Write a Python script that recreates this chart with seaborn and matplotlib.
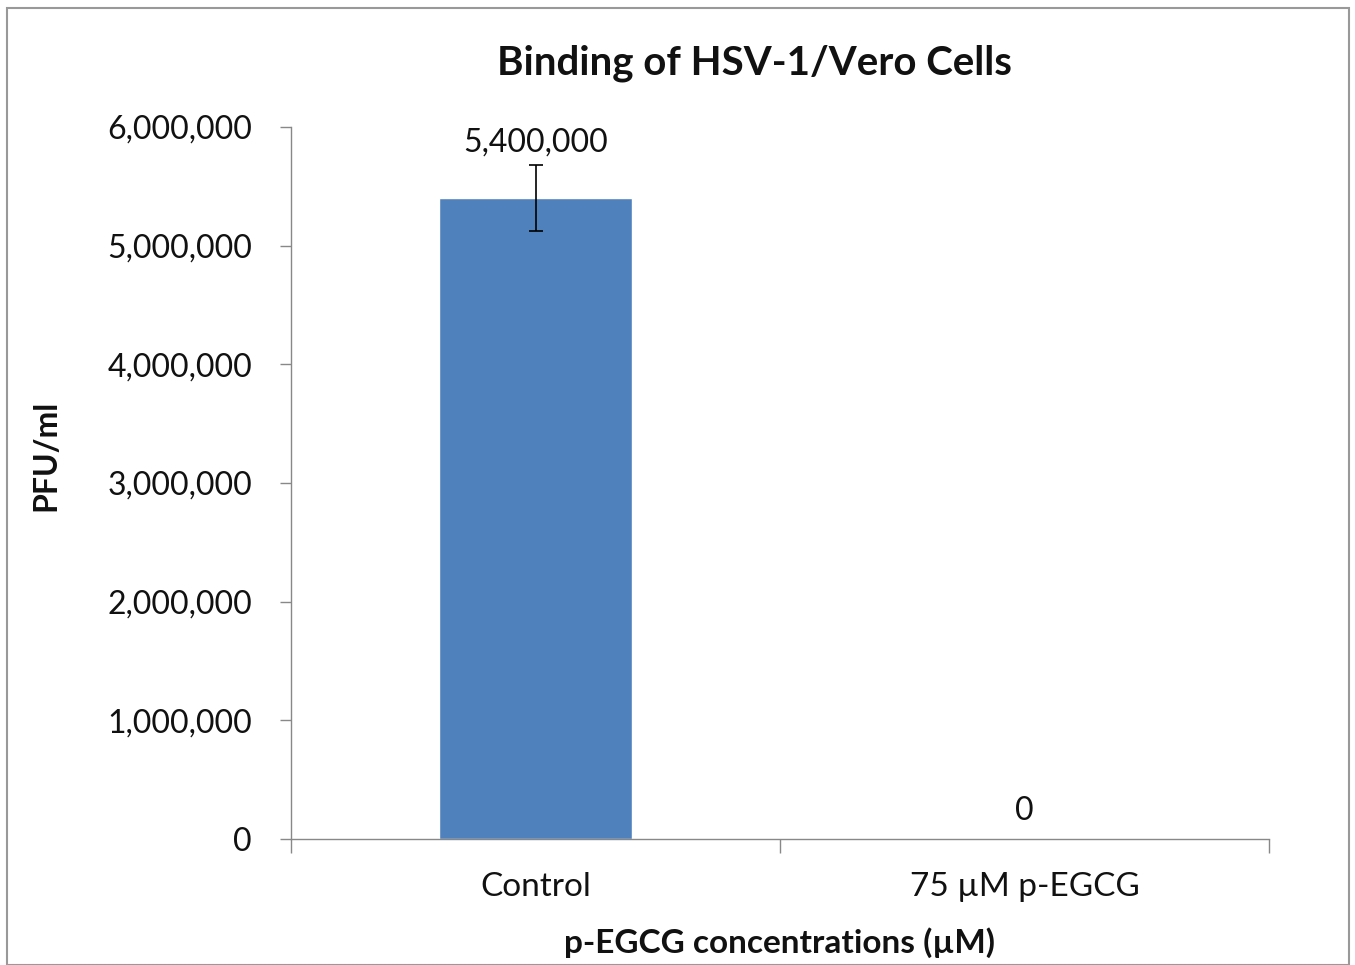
import matplotlib
matplotlib.use("Agg")
import matplotlib.pyplot as plt
import seaborn as sns
import pandas as pd
from matplotlib.patches import Rectangle
from matplotlib.ticker import FuncFormatter, FixedLocator

categories = ["Control", "75 µM p-EGCG"]
values = [5400000, 0]
errors = [280000, 0]
value_labels = ["5,400,000", "0"]
yticks = [0, 1000000, 2000000, 3000000, 4000000, 5000000, 6000000]

sns.set_theme(style="white")
plt.rcParams['font.family'] = ['Lato', 'DejaVu Sans']

df = pd.DataFrame({"cat": categories, "val": values})

fig = plt.figure(figsize=(13.55, 9.65), dpi=100)
ax = fig.add_axes([291/1355, 1-839/965, (1269-291)/1355, (839-127)/965])

sns.barplot(data=df, x="cat", y="val", color="#4F81BD", width=0.395,
            errorbar=None, saturation=1, ax=ax)
ax.errorbar(x=range(len(categories))[:1], y=values[:1], yerr=errors[:1],
            fmt="none", ecolor="black", elinewidth=1.2, capsize=5, capthick=1.2)

for i, (v, e, lab) in enumerate(zip(values, errors, value_labels)):
    ax.annotate(lab, (i, v + e), xytext=(0, 5 if e else 9), textcoords="offset points",
                ha="center", va="bottom", fontsize=23, color="#111111")

ax.set_xlim(-0.5, 1.5)
ax.set_ylim(0, 6000000)
ax.set_yticks(yticks)
ax.yaxis.set_major_formatter(FuncFormatter(lambda v, p: f"{int(v):,}"))
ax.xaxis.set_major_locator(FixedLocator([-0.5, 0.5, 1.5]))
ax.xaxis.set_minor_locator(FixedLocator([0, 1]))
ax.set_xticklabels([], minor=False)
ax.set_xticklabels(categories, minor=True)
ax.tick_params(axis="x", which="major", length=10, width=1, color="#888888", direction="out", bottom=True)
ax.tick_params(axis="x", which="minor", length=0, labelsize=24, pad=24, bottom=True, labelcolor="#111111")
ax.tick_params(axis="y", length=8, width=1, color="#888888", direction="out", labelsize=23,
               pad=20, left=True, labelcolor="#111111")

for s in ["top", "right"]:
    ax.spines[s].set_visible(False)
for s in ["left", "bottom"]:
    ax.spines[s].set_color("#888888")
    ax.spines[s].set_linewidth(1)

ax.set_xlabel("p-EGCG concentrations (µM)", fontsize=24, fontweight="bold", labelpad=18, color="#111111")
ax.set_ylabel("PFU/ml", fontsize=23, fontweight="bold", color="#111111")
ax.yaxis.set_label_coords(-0.236, 0.539)
ax.set_title("Binding of HSV-1/Vero Cells", fontsize=29, fontweight="bold", pad=38,
             x=0.474, color="#111111")

fig.patches.append(Rectangle((7/1355, 0), 1342/1355, 1-8/965, transform=fig.transFigure,
                             fill=False, edgecolor="#999999", linewidth=1.5))

fig.savefig("out.png", dpi=100)
